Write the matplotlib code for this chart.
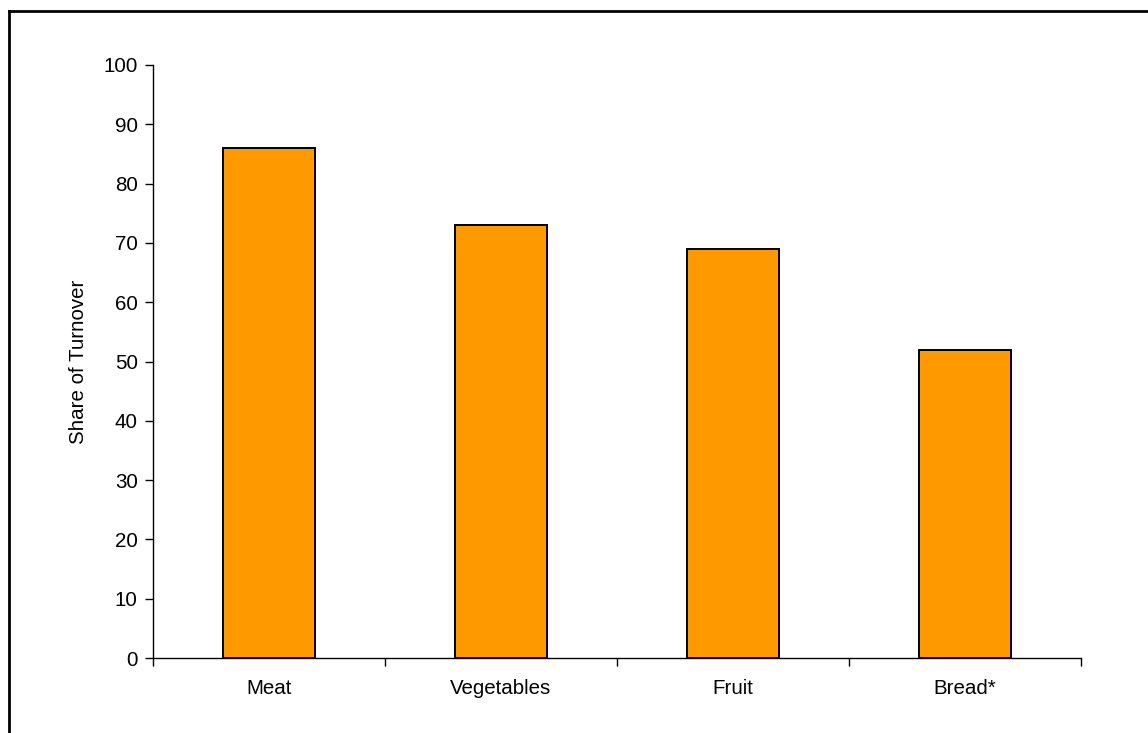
import matplotlib
matplotlib.use("Agg")
import matplotlib.pyplot as plt
from matplotlib.lines import Line2D

categories = ["Meat", "Vegetables", "Fruit", "Bread*"]
values = [86, 73, 69, 52]
yticks = [0, 10, 20, 30, 40, 50, 60, 70, 80, 90, 100]
ylabel = "Share of Turnover"

plt.rcParams["font.family"] = ["Liberation Sans", "DejaVu Sans"]

W, H = 1148, 733
fig = plt.figure(figsize=(W / 100, H / 100), dpi=100)
fig.patch.set_facecolor("white")

ax = fig.add_axes([153 / W, 1 - 658 / H, (1081 - 153) / W, (658 - 65) / H])

x = list(range(len(categories)))
ax.bar(x, values, width=0.4, color="#FF9900", edgecolor="black", linewidth=1.4, zorder=3)

ax.set_xlim(-0.5, len(categories) - 0.5)
ax.set_ylim(0, 100)

ax.set_yticks(yticks)
ax.set_yticklabels([str(t) for t in yticks], fontsize=14.8)
ax.tick_params(axis="y", direction="out", length=6, width=1, pad=5)

# boundary ticks between categories, labels centred on the bars
ax.set_xticks([i - 0.5 for i in range(len(categories) + 1)])
ax.set_xticklabels([])
ax.set_xticks(x, minor=True)
ax.set_xticklabels(categories, minor=True, fontsize=14.8)
ax.tick_params(axis="x", which="major", direction="out", length=6, width=1)
ax.tick_params(axis="x", which="minor", length=0, pad=15)

for s in ("top", "right"):
    ax.spines[s].set_visible(False)
for s in ("left", "bottom"):
    ax.spines[s].set_linewidth(1)
    ax.spines[s].set_color("black")

ax.set_ylabel(ylabel, fontsize=14.8, labelpad=11)

# chart-area border running off the bottom and right edges
fy = 1 - 11 / H
fx = 9 / W
fig.add_artist(Line2D([fx, 1.0], [fy, fy], color="black", linewidth=2, transform=fig.transFigure))
fig.add_artist(Line2D([fx, fx], [0.0, fy], color="black", linewidth=2, transform=fig.transFigure))

fig.savefig("out.png", dpi=100)
